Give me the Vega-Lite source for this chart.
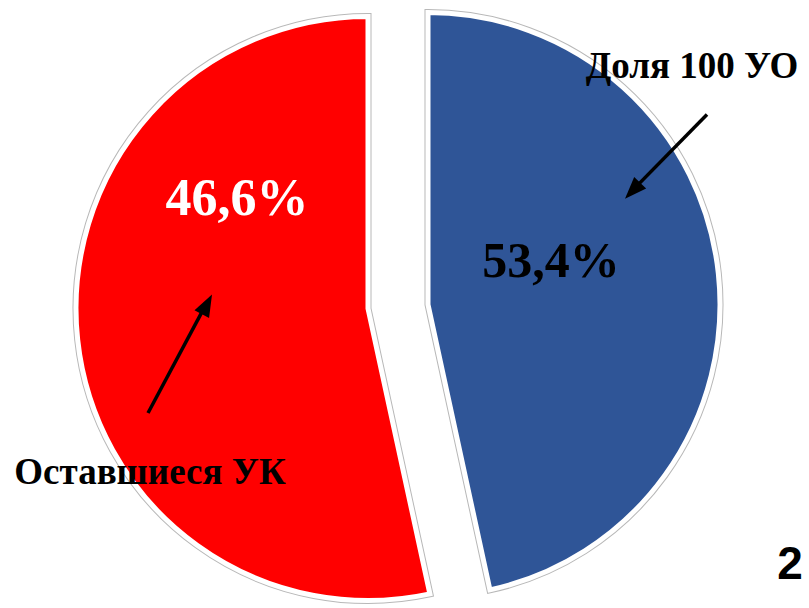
{
  "$schema": "https://vega.github.io/schema/vega-lite/v6.json",
  "width": 809,
  "height": 608,
  "padding": 0,
  "autosize": {"type": "fit", "contains": "padding"},
  "background": "white",
  "config": {"view": {"stroke": null}},
  "datasets": {
    "slices": [
      {"category": "Доля 100 УО", "share": 46.6, "label": "53,4%"},
      {"category": "Оставшиеся УК", "share": 53.4, "label": "46,6%"}
    ],
    "texts": [
      {"kind": "cat", "text": "Доля 100 УО", "x": 692, "y": 80},
      {"kind": "cat", "text": "Оставшиеся УК", "x": 150, "y": 495},
      {"kind": "pctw", "text": "46,6%", "x": 237, "y": 220},
      {"kind": "pctb", "text": "53,4%", "x": 551, "y": 283},
      {"kind": "num", "text": "2", "x": 790, "y": 592}
    ],
    "arrows": [
      {"x": 707, "y": 117, "x2": 633, "y2": 194, "tipx": 625, "tipy": 203, "angle": 223.6},
      {"x": 148, "y": 422, "x2": 206, "y2": 311, "tipx": 212, "tipy": 301, "angle": 27.7}
    ]
  },
  "layer": [
    {
      "data": {"name": "slices"},
      "transform": [
        {"stack": "share", "groupby": [], "as": ["t0", "t1"], "sort": [{"field": "category", "order": "ascending"}]},
        {"filter": "datum.category === 'Доля 100 УО'"}
      ],
      "layer": [
        {
          "mark": {"type": "arc", "radius": 292, "xOffset": 23.5, "yOffset": 7, "stroke": "#b8b8b8", "strokeWidth": 7, "strokeJoin": "miter"},
          "encoding": {
            "theta": {"field": "t0", "type": "quantitative", "scale": {"domain": [0, 100]}},
            "theta2": {"field": "t1"},
            "color": {"field": "category", "type": "nominal", "scale": {"domain": ["Доля 100 УО", "Оставшиеся УК"], "range": ["#2F5597", "#FF0000"]}, "legend": null}
          }
        },
        {
          "mark": {"type": "arc", "radius": 292, "xOffset": 23.5, "yOffset": 7, "stroke": "white", "strokeWidth": 5, "strokeJoin": "miter"},
          "encoding": {
            "theta": {"field": "t0", "type": "quantitative", "scale": {"domain": [0, 100]}},
            "theta2": {"field": "t1"},
            "color": {"field": "category", "type": "nominal", "legend": null}
          }
        }
      ]
    },
    {
      "data": {"name": "slices"},
      "transform": [
        {"stack": "share", "groupby": [], "as": ["t0", "t1"], "sort": [{"field": "category", "order": "ascending"}]},
        {"filter": "datum.category === 'Оставшиеся УК'"}
      ],
      "layer": [
        {
          "mark": {"type": "arc", "radius": 292, "xOffset": -36.5, "yOffset": 11, "stroke": "#b8b8b8", "strokeWidth": 7, "strokeJoin": "miter"},
          "encoding": {
            "theta": {"field": "t0", "type": "quantitative", "scale": {"domain": [0, 100]}},
            "theta2": {"field": "t1"},
            "color": {"field": "category", "type": "nominal", "legend": null}
          }
        },
        {
          "mark": {"type": "arc", "radius": 292, "xOffset": -36.5, "yOffset": 11, "stroke": "white", "strokeWidth": 5, "strokeJoin": "miter"},
          "encoding": {
            "theta": {"field": "t0", "type": "quantitative", "scale": {"domain": [0, 100]}},
            "theta2": {"field": "t1"},
            "color": {"field": "category", "type": "nominal", "legend": null}
          }
        }
      ]
    },
    {
      "data": {"name": "arrows"},
      "mark": {"type": "rule", "color": "black", "strokeWidth": 3.5},
      "encoding": {
        "x": {"field": "x", "type": "quantitative", "scale": {"domain": [0, 809], "nice": false, "zero": false}, "axis": null},
        "y": {"field": "y", "type": "quantitative", "scale": {"domain": [608, 0], "nice": false, "zero": false}, "axis": null},
        "x2": {"field": "x2"},
        "y2": {"field": "y2"}
      }
    },
    {
      "data": {"name": "arrows"},
      "mark": {"type": "point", "shape": "M0,0L0.75,2L-0.75,2Z", "filled": true, "color": "black", "size": 484, "opacity": 1, "strokeWidth": 0},
      "encoding": {
        "x": {"field": "tipx", "type": "quantitative", "axis": null},
        "y": {"field": "tipy", "type": "quantitative", "axis": null},
        "angle": {"field": "angle", "type": "quantitative", "scale": null}
      }
    },
    {
      "data": {"name": "texts"},
      "transform": [{"filter": "datum.kind === 'cat'"}],
      "mark": {"type": "text", "font": "Liberation Serif", "fontWeight": "bold", "fontSize": 37, "color": "black", "align": "center", "baseline": "alphabetic"},
      "encoding": {
        "x": {"field": "x", "type": "quantitative", "axis": null},
        "y": {"field": "y", "type": "quantitative", "axis": null},
        "text": {"field": "text"}
      }
    },
    {
      "data": {"name": "texts"},
      "transform": [{"filter": "datum.kind === 'pctw'"}],
      "mark": {"type": "text", "font": "Liberation Serif", "fontWeight": "bold", "fontSize": 52, "color": "white", "align": "center", "baseline": "alphabetic"},
      "encoding": {
        "x": {"field": "x", "type": "quantitative", "axis": null},
        "y": {"field": "y", "type": "quantitative", "axis": null},
        "text": {"field": "text"}
      }
    },
    {
      "data": {"name": "texts"},
      "transform": [{"filter": "datum.kind === 'pctb'"}],
      "mark": {"type": "text", "font": "Liberation Serif", "fontWeight": "bold", "fontSize": 50, "color": "black", "align": "center", "baseline": "alphabetic"},
      "encoding": {
        "x": {"field": "x", "type": "quantitative", "axis": null},
        "y": {"field": "y", "type": "quantitative", "axis": null},
        "text": {"field": "text"}
      }
    },
    {
      "data": {"name": "texts"},
      "transform": [{"filter": "datum.kind === 'num'"}],
      "mark": {"type": "text", "font": "Liberation Sans", "fontWeight": "bold", "fontSize": 46, "color": "black", "align": "center", "baseline": "alphabetic"},
      "encoding": {
        "x": {"field": "x", "type": "quantitative", "axis": null},
        "y": {"field": "y", "type": "quantitative", "axis": null},
        "text": {"field": "text"}
      }
    }
  ]
}
